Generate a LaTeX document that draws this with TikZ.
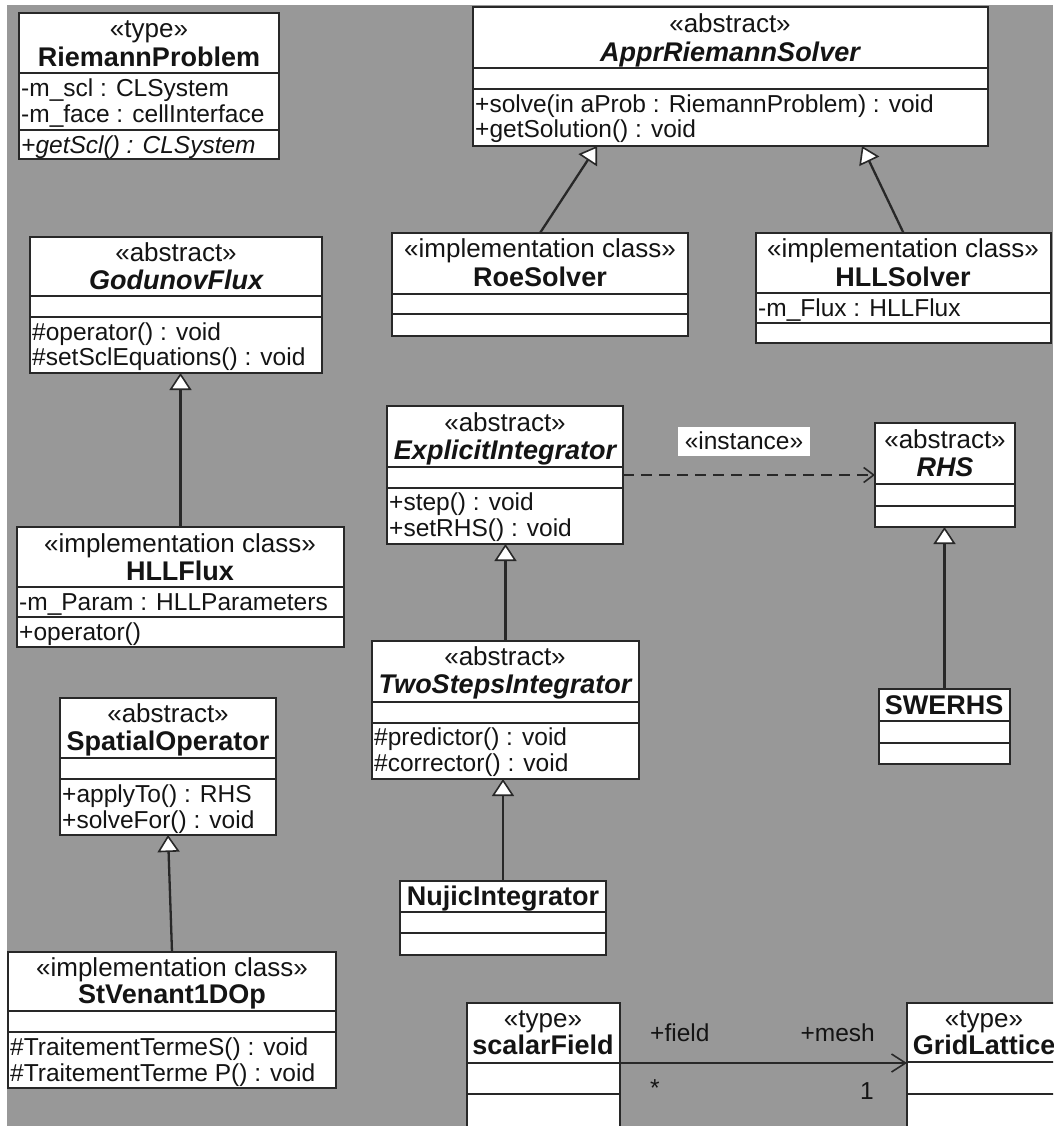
\documentclass[tikz,border=0pt]{standalone}
\usepackage{fontspec}
\setmainfont{Liberation Sans}
\usetikzlibrary{arrows.meta,calc}
\definecolor{bggray}{RGB}{152,152,152}
\definecolor{lncol}{RGB}{40,40,40}
\definecolor{txcol}{RGB}{20,20,20}
\newcommand{\clsdiv}[2]{\draw[divider] ([yshift=-#2pt]#1.north west) -- ([yshift=-#2pt]#1.north east);}
\begin{document}
\begin{tikzpicture}[x=1pt,y=-1pt,
  cls/.style={draw=lncol, fill=white, line width=1.8pt, inner sep=0pt, outer sep=0pt, anchor=north west},
  stereo/.style={inner sep=0pt, text=txcol, font=\fontsize{26}{30}\selectfont, text height=18.7pt, text depth=0pt},
  cname/.style={inner sep=0pt, text=txcol, font=\fontsize{27}{32}\selectfont\bfseries, text height=19.4pt, text depth=0pt},
  cnamei/.style={inner sep=0pt, text=txcol, font=\fontsize{27}{32}\selectfont\bfseries\itshape, text height=19.4pt, text depth=0pt},
  item/.style={inner sep=0pt, text=txcol, font=\fontsize{24.5}{29}\selectfont, text height=17.6pt, text depth=0pt, anchor=west},
  lbl/.style={inner sep=0pt, text=txcol, font=\fontsize{24.5}{29}\selectfont, text height=17.6pt, text depth=0pt},
  divider/.style={draw=lncol, line width=1.8pt},
  genarrow/.style={draw=lncol, line width=2.3pt, -{Triangle[length=17pt,width=22pt,fill=white,line width=1.6pt]}},
  deparrow/.style={draw=lncol, line width=1.8pt, dash pattern=on 11pt off 7pt, -{Straight Barb[length=10pt,width=15pt,line width=1.6pt]}},
  assocarrow/.style={draw=lncol, line width=1.8pt, -{Straight Barb[length=14pt,width=18pt,line width=1.6pt]}}
]
\useasboundingbox (0,0) rectangle (1053,1126);
\clip (0,0) rectangle (1053,1126);
\fill[white] (0,0) rectangle (1053,1126);
\fill[bggray] (7,5) rectangle (1053,1126);

% ---------- class boxes ----------
\node[cls, minimum width=260pt, minimum height=146pt] (rp) at (19,13) {};
\node[cls, minimum width=515pt, minimum height=139pt] (ars) at (473,7) {};
\node[cls, minimum width=292pt, minimum height=136pt] (gf) at (30,237) {};
\node[cls, minimum width=296pt, minimum height=103pt] (roe) at (392,233) {};
\node[cls, minimum width=295pt, minimum height=110pt] (hs) at (756,233) {};
\node[cls, minimum width=236pt, minimum height=138pt] (ei) at (387,406) {};
\node[cls, minimum width=140pt, minimum height=104pt] (rhs) at (875,423) {};
\node[cls, minimum width=267pt, minimum height=138pt] (tsi) at (372,641) {};
\node[cls, minimum width=131pt, minimum height=75pt] (sw) at (879,689) {};
\node[cls, minimum width=206pt, minimum height=74pt] (nj) at (400,881) {};
\node[cls, minimum width=327pt, minimum height=120pt] (hf) at (17,527) {};
\node[cls, minimum width=216pt, minimum height=137pt] (so) at (60,698) {};
\node[cls, minimum width=328pt, minimum height=136pt] (sv) at (8,952) {};
\node[cls, minimum width=153pt, minimum height=140pt] (sf) at (467,1003) {};
\node[cls, minimum width=155pt, minimum height=140pt] (gl) at (907,1003) {};

% ---------- compartment dividers ----------
\clsdiv{rp}{60}\clsdiv{rp}{117}
\clsdiv{ars}{61}\clsdiv{ars}{82}
\clsdiv{gf}{59}\clsdiv{gf}{80}
\clsdiv{roe}{61}\clsdiv{roe}{81}
\clsdiv{hs}{60}\clsdiv{hs}{90}
\clsdiv{ei}{61}\clsdiv{ei}{82}
\clsdiv{rhs}{61}\clsdiv{rhs}{83}
\clsdiv{tsi}{61}\clsdiv{tsi}{82}
\clsdiv{sw}{32}\clsdiv{sw}{54}
\clsdiv{nj}{31}\clsdiv{nj}{52}
\clsdiv{hf}{60}\clsdiv{hf}{90}
\clsdiv{so}{60}\clsdiv{so}{81}
\clsdiv{sv}{59}\clsdiv{sv}{80}
\clsdiv{sf}{60}\clsdiv{sf}{91}
\clsdiv{gl}{59}\clsdiv{gl}{91}

% ---------- texts ----------
% RiemannProblem
\node[stereo] (rp-s) at (149,28) {«type»};
\node[cname] (rp-n) at (149,57) {RiemannProblem};
\node[item] (rp-a1) at (21,88) {-m\_scl : CLSystem};
\node[item] (rp-a2) at (21,114) {-m\_face : cellInterface};
\node[item, font=\fontsize{24.5}{29}\selectfont\itshape] (rp-o1) at (21,145) {+getScl() : CLSystem};
% ApprRiemannSolver
\node[stereo] (ars-s) at (730,23) {«abstract»};
\node[cnamei] (ars-n) at (730,52) {ApprRiemannSolver};
\node[item] (ars-o1) at (475,104) {+solve(in aProb : RiemannProblem) : void};
\node[item] (ars-o2) at (475,129) {+getSolution() : void};
% GodunovFlux
\node[stereo] (gf-s) at (176,252) {«abstract»};
\node[cnamei] (gf-n) at (176,280) {GodunovFlux};
\node[item] (gf-o1) at (32,332) {\#operator() : void};
\node[item] (gf-o2) at (32,357) {\#setSclEquations() : void};
% RoeSolver
\node[stereo] (roe-s) at (540,248) {«implementation class»};
\node[cname] (roe-n) at (540,277) {RoeSolver};
% HLLSolver
\node[stereo] (hs-s) at (903,248) {«implementation class»};
\node[cname] (hs-n) at (903,277) {HLLSolver};
\node[item] (hs-a1) at (758,308) {-m\_Flux : HLLFlux};
% ExplicitIntegrator
\node[stereo] (ei-s) at (505,422) {«abstract»};
\node[cnamei] (ei-n) at (505,450) {ExplicitIntegrator};
\node[item] (ei-o1) at (389,502) {+step() : void};
\node[item] (ei-o2) at (389,528) {+setRHS() : void};
% RHS
\node[stereo] (rhs-s) at (945,439) {«abstract»};
\node[cnamei] (rhs-n) at (945,467) {RHS};
% TwoStepsIntegrator
\node[stereo] (tsi-s) at (505,656) {«abstract»};
\node[cnamei] (tsi-n) at (505,684) {TwoStepsIntegrator};
\node[item] (tsi-o1) at (374,737) {\#predictor() : void};
\node[item] (tsi-o2) at (374,763) {\#corrector() : void};
% SWERHS
\node[cname] (sw-n) at (944,705) {SWERHS};
% NujicIntegrator
\node[cname] (nj-n) at (503,896) {NujicIntegrator};
% HLLFlux
\node[stereo] (hf-s) at (180,543) {«implementation class»};
\node[cname] (hf-n) at (180,571) {HLLFlux};
\node[item] (hf-a1) at (19,602) {-m\_Param : HLLParameters};
\node[item] (hf-o1) at (19,632) {+operator()};
% SpatialOperator
\node[stereo] (so-s) at (168,713) {«abstract»};
\node[cname] (so-n) at (168,741) {SpatialOperator};
\node[item] (so-o1) at (62,794) {+applyTo() : RHS};
\node[item] (so-o2) at (62,820) {+solveFor() : void};
% StVenant1DOp
\node[stereo] (sv-s) at (172,967) {«implementation class»};
\node[cname] (sv-n) at (172,994) {StVenant1DOp};
\node[item] (sv-o1) at (10,1047) {\#TraitementTermeS() : void};
\node[item] (sv-o2) at (10,1073) {\#TraitementTerme P() : void};
% scalarField
\node[stereo] (sf-s) at (543,1018) {«type»};
\node[cname] (sf-n) at (543,1045) {scalarField};
% GridLattice
\node[stereo] (gl-s) at (984,1018) {«type»};
\node[cname] (gl-n) at (984,1045) {GridLattice};

% ---------- connectors ----------
\draw[genarrow] (roe.north) -- ([xshift=124pt]ars.south west);
\draw[genarrow] (hs.north) -- ([xshift=-126pt]ars.south east);
\draw[genarrow] (hf.north) -- (hf.north |- gf.south);
\draw[genarrow] (tsi.north) -- (tsi.north |- ei.south);
\draw[genarrow] (nj.north) -- (nj.north |- tsi.south);
\draw[genarrow] (sw.north) -- (sw.north |- rhs.south);
\draw[genarrow] (sv.north) -- (so.south);
\draw[deparrow] (ei.east) -- (rhs.west);
\node[lbl, fill=white, minimum width=132pt, minimum height=29pt] (inst) at (744,441) {«instance»};
\draw[assocarrow] ([yshift=-60pt]sf.north east) -- ([yshift=-60pt]gl.north west);
\node[lbl, anchor=west] (fieldlbl) at (650,1033) {+field};
\node[lbl, anchor=east] (meshlbl) at (875,1033) {+mesh};
\node[lbl] (starlbl) at (655,1088) {*};
\node[lbl] (onelbl) at (867,1091) {1};
\end{tikzpicture}
\end{document}
